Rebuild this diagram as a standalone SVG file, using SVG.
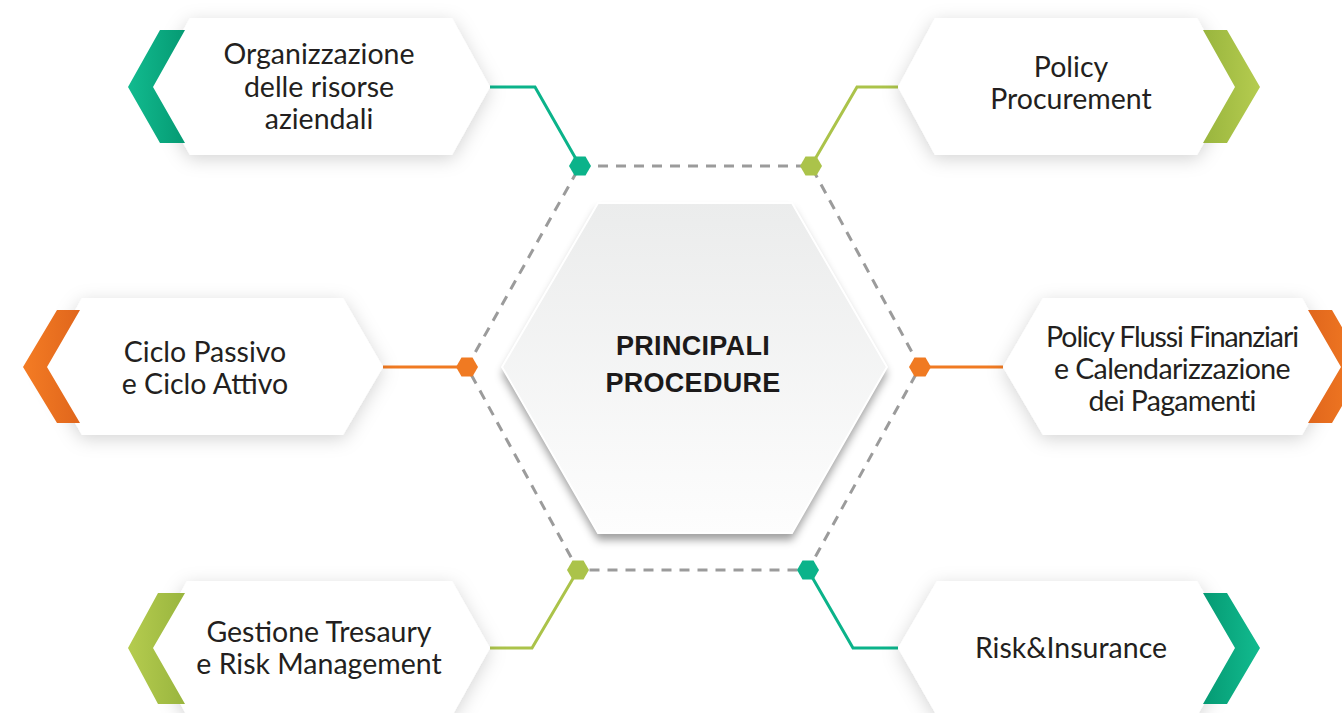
<svg xmlns="http://www.w3.org/2000/svg" width="1342" height="713" viewBox="0 0 1342 713">
<defs>
<filter id="sh" x="-20%" y="-30%" width="140%" height="160%"><feDropShadow dx="0" dy="4" stdDeviation="9" flood-color="#000" flood-opacity="0.17"/></filter>
<filter id="csh" x="-20%" y="-20%" width="140%" height="140%"><feDropShadow dx="0" dy="7" stdDeviation="4" flood-color="#000" flood-opacity="0.38"/></filter>
<linearGradient id="gTeal" x1="0" y1="0" x2="1" y2="0"><stop offset="0" stop-color="#12bb8f"/><stop offset="1" stop-color="#059a73"/></linearGradient>
<linearGradient id="gTealR" x1="1" y1="0" x2="0" y2="0"><stop offset="0" stop-color="#12bb8f"/><stop offset="1" stop-color="#059a73"/></linearGradient>
<linearGradient id="gLime" x1="0" y1="0" x2="1" y2="0"><stop offset="0" stop-color="#b5cc4f"/><stop offset="1" stop-color="#99b53e"/></linearGradient>
<linearGradient id="gLimeR" x1="1" y1="0" x2="0" y2="0"><stop offset="0" stop-color="#b5cc4f"/><stop offset="1" stop-color="#99b53e"/></linearGradient>
<linearGradient id="gOr" x1="0" y1="0" x2="1" y2="0"><stop offset="0" stop-color="#f47c24"/><stop offset="1" stop-color="#e0661c"/></linearGradient>
<linearGradient id="gOrR" x1="1" y1="0" x2="0" y2="0"><stop offset="0" stop-color="#f47c24"/><stop offset="1" stop-color="#e0661c"/></linearGradient>
<linearGradient id="gCenter" x1="0" y1="0" x2="0" y2="1"><stop offset="0" stop-color="#ebecec"/><stop offset="1" stop-color="#fdfdfd"/></linearGradient>
</defs>
<style>
.box{fill:#ffffff;filter:url(#sh)}
.lbl{font-family:Lato,"Liberation Sans",sans-serif;font-size:28.5px;fill:#231f20;text-anchor:middle}
.ttl{font-family:"Liberation Sans",Arial,sans-serif;font-size:27px;font-weight:bold;fill:#1c1a1a;text-anchor:middle;letter-spacing:0.3px}
.con{fill:none;stroke-width:3}
.teal{stroke:#0bb38a}
.lime{stroke:#abc34a}
.or{stroke:#f07a22}
.dash{fill:none;stroke:#9b9b9b;stroke-width:3;stroke-dasharray:10 8}
</style>
<rect width="1342" height="713" fill="#ffffff"/>

<g id="ring">
<path class="dash" d="M580,166 L811,166 L920,367 L808,570 L578,570 L467,367 Z"/>
</g>

<g id="center">
<polygon points="598,203 792,203 887,367 792,533 598,533 502,367" fill="#f4f4f4" filter="url(#csh)"/>
<polygon points="598,203 792,203 887,367 792,533 598,533 502,367" fill="url(#gCenter)" stroke="#ffffff" stroke-width="2"/>
<text class="ttl" x="693" y="355">PRINCIPALI</text>
<text class="ttl" x="693" y="392">PROCEDURE</text>
</g>

<g id="connectors">
<path class="con teal" d="M490,87 H535 L580,166"/>
<path class="con lime" d="M898,87 H857 L811,166"/>
<path class="con or" d="M383,367 H467"/>
<path class="con or" d="M1003,367 H920"/>
<path class="con lime" d="M490,648 H532 L578,570"/>
<path class="con teal" d="M898,648 H853 L808,570"/>
<polygon points="569,166 574.5,156.5 585.5,156.5 591,166 585.5,175.5 574.5,175.5" fill="#0bb38a"/>
<polygon points="800,166 805.5,156.5 816.5,156.5 822,166 816.5,175.5 805.5,175.5" fill="#abc34a"/>
<polygon points="456,367 461.5,357.5 472.5,357.5 478,367 472.5,376.5 461.5,376.5" fill="#f07a22"/>
<polygon points="909,367 914.5,357.5 925.5,357.5 931,367 925.5,376.5 914.5,376.5" fill="#f07a22"/>
<polygon points="567,570 572.5,560.5 583.5,560.5 589,570 583.5,579.5 572.5,579.5" fill="#abc34a"/>
<polygon points="797,570 802.5,560.5 813.5,560.5 819,570 813.5,579.5 802.5,579.5" fill="#0bb38a"/>
</g>

<g id="n-organizzazione">
<polygon class="box" points="190,18 452,18 490,87 452,155 190,155 151,87"/>
<polygon points="160,30 185,30 153,87 185,143 160,143 128,87" fill="url(#gTeal)"/>
<text class="lbl" x="319" y="64">Organizzazione</text>
<text class="lbl" x="319" y="97">delle risorse</text>
<text class="lbl" x="319" y="129">aziendali</text>
</g>

<g id="n-policy-procurement">
<polygon class="box" points="935,18 1197,18 1236,87 1197,155 935,155 898,87"/>
<polygon points="1203,30 1227,30 1260,87 1227,143 1203,143 1235,87" fill="url(#gLimeR)"/>
<text class="lbl" x="1071" y="77">Policy</text>
<text class="lbl" x="1071" y="109">Procurement</text>
</g>

<g id="n-ciclo">
<polygon class="box" points="82,298 343,298 383,367 343,435 82,435 43,367"/>
<polygon points="57,310 80,310 47,367 80,423 57,423 23,367" fill="url(#gOr)"/>
<text class="lbl" x="205" y="362">Ciclo Passivo</text>
<text class="lbl" x="205" y="394">e Ciclo Attivo</text>
</g>

<g id="n-policy-flussi">
<polygon class="box" points="1043,298 1302,298 1341,367 1302,435 1043,435 1003,367"/>
<polygon points="1308,310 1332,310 1365,367 1332,423 1308,423 1341,367" fill="url(#gOrR)"/>
<text class="lbl" x="1172" y="347" style="letter-spacing:-1.1px">Policy Flussi Finanziari</text>
<text class="lbl" x="1172" y="379" style="letter-spacing:-0.6px">e Calendarizzazione</text>
<text class="lbl" x="1172" y="411" style="letter-spacing:-0.7px">dei Pagamenti</text>
</g>

<g id="n-tresaury">
<polygon class="box" points="187,581 452,581 490,648 452,716 187,716 150,648"/>
<polygon points="158,593 185,593 153,648 185,704 158,704 128,648" fill="url(#gLime)"/>
<text class="lbl" x="319" y="642">Gestione Tresaury</text>
<text class="lbl" x="319" y="674">e Risk Management</text>
</g>

<g id="n-risk">
<polygon class="box" points="937,581 1197,581 1236,648 1197,716 937,716 898,648"/>
<polygon points="1203,593 1227,593 1260,648 1227,704 1203,704 1235,648" fill="url(#gTealR)"/>
<text class="lbl" x="1071" y="658">Risk&amp;Insurance</text>
</g>
</svg>
